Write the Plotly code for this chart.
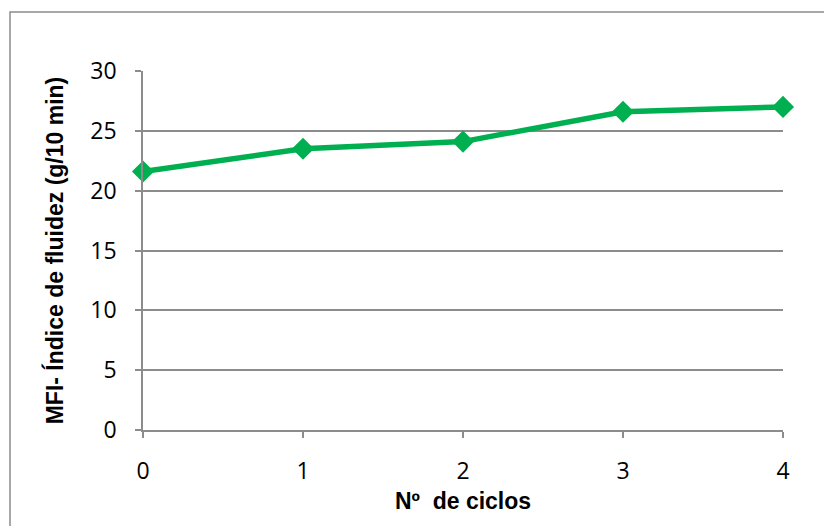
import plotly.graph_objects as go

ciclos = [0, 1, 2, 3, 4]
mfi = [21.6, 23.5, 24.1, 26.6, 27.0]
y_ticks = [0, 5, 10, 15, 20, 25, 30]

W, H = 832, 526
OFF = 8  # page body margin
L, T = 143 - OFF, 71 - OFF
PW, PH = 640, 359
R, B = W - L - PW, H - T - PH

def px(x):
    return (x - OFF - L) / PW

def py(y):
    return (T + PH - (y - OFF)) / PH

GRID = "#8c8c8c"
fig = go.Figure()
fig.add_trace(go.Scatter(
    x=ciclos, y=mfi, mode="lines+markers",
    line=dict(color="#00B050", width=5.5),
    marker=dict(symbol="diamond", size=17, color="#00B050"),
    showlegend=False, cliponaxis=False,
))

fig.update_layout(
    width=W, height=H,
    margin=dict(l=L, r=R, t=T, b=B),
    plot_bgcolor="white", paper_bgcolor="white",
    font=dict(family="Open Sans", color="black"),
    xaxis=dict(
        range=[0, 4], tickvals=ciclos, ticktext=[str(c) for c in ciclos],
        showgrid=False, zeroline=False,
        showline=True, linecolor=GRID, linewidth=1.5,
        ticks="outside", ticklen=6, tickcolor=GRID, tickwidth=1.5,
        ticklabelstandoff=14,
        tickfont=dict(size=23, family="Open Sans", color="black"),
        title=dict(text="<b>Nº  de ciclos</b>", font=dict(size=23, family="Liberation Sans", color="black"), standoff=8),
        fixedrange=True,
    ),
    yaxis=dict(
        range=[0, 30], tickvals=y_ticks,
        showgrid=True, gridcolor=GRID, gridwidth=1.5,
        zeroline=False,
        showline=True, linecolor=GRID, linewidth=1.5,
        ticks="outside", ticklen=6, tickcolor=GRID, tickwidth=1.5,
        ticklabelstandoff=14,
        tickfont=dict(size=23, family="Open Sans", color="black"),
        title=dict(text="<b>MFI- Índice de fluidez (g/10 min)</b>", font=dict(size=23, family="Liberation Sans", color="black"), standoff=20),
        fixedrange=True,
    ),
    shapes=[dict(
        type="rect", xref="paper", yref="paper",
        x0=px(10), x1=px(W + 20), y0=py(H + 20), y1=py(12),
        line=dict(color=GRID, width=1.5), fillcolor="rgba(0,0,0,0)", layer="below",
    )],
)

fig.write_html("out.html")
